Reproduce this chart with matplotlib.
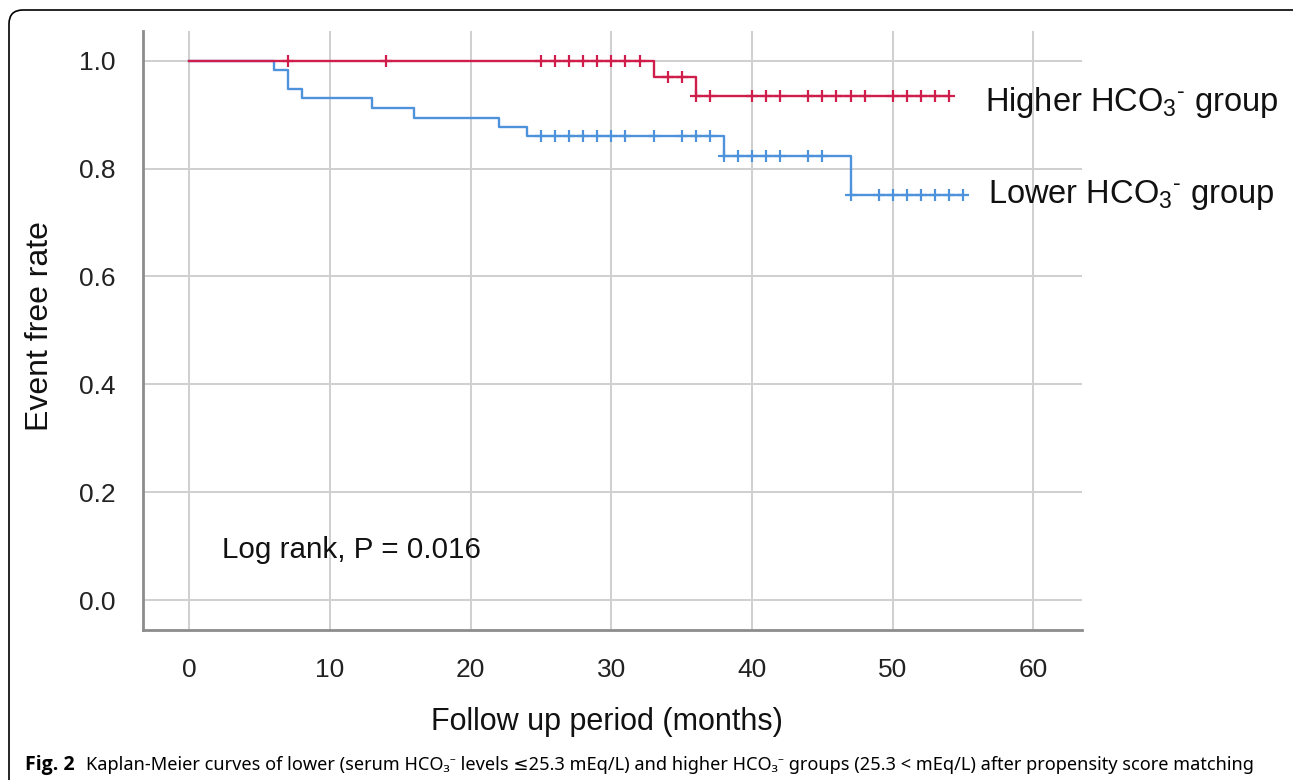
import numpy as np
import matplotlib
matplotlib.use('Agg')
from matplotlib import pyplot as plt
from matplotlib.patches import FancyBboxPatch
from matplotlib.transforms import IdentityTransform

plt.rcParams['font.family'] = ['Liberation Sans', 'DejaVu Sans']
plt.rcParams['mathtext.fontset'] = 'custom'
plt.rcParams['mathtext.rm'] = 'Liberation Sans'
plt.rcParams['mathtext.it'] = 'Liberation Sans:italic'
plt.rcParams['mathtext.bf'] = 'Liberation Sans:bold'

# Kaplan-Meier steps (months, event free rate)
high_times = [0, 33, 36, 54]
high_surv = [1.0, 0.970, 0.935, 0.935]
high_censor = [7, 14, 25, 26, 27, 28, 29, 30, 31, 32, 34, 35, 36, 37,
               40, 41, 42, 44, 45, 46, 47, 48, 50, 51, 52, 53, 54]

low_times = [0, 6, 7, 8, 13, 16, 22, 24, 38, 47, 55]
low_surv = [1.0, 0.983, 0.948, 0.931, 0.913, 0.894, 0.877, 0.860, 0.824, 0.751, 0.751]
low_censor = [25, 26, 27, 28, 29, 30, 31, 33, 35, 36, 37, 38, 39, 40, 41, 42,
              44, 45, 47, 49, 50, 51, 52, 53, 54, 55]

x_ticks = [0, 10, 20, 30, 40, 50, 60]
y_ticks = [0.0, 0.2, 0.4, 0.6, 0.8, 1.0]

red = '#cf1d4c'
blue = '#4f92dc'


def step_value(times, surv, t):
    idx = np.searchsorted(times, t, side='right') - 1
    return np.asarray(surv)[idx]


W, H = 1293, 780
fig = plt.figure(figsize=(W / 100, H / 100), dpi=100)
ax = fig.add_axes([143 / W, 1 - 630 / H, (1082 - 143) / W, (630 - 30.7) / H])

ax.step(low_times, low_surv, where='post', color=blue, lw=1.7, zorder=3)
ax.plot(low_censor, step_value(low_times, low_surv, low_censor), ls='none',
        marker='+', ms=9, mew=1.6, color=blue, zorder=3)
ax.step(high_times, high_surv, where='post', color=red, lw=1.7, zorder=4)
ax.plot(high_censor, step_value(high_times, high_surv, high_censor), ls='none',
        marker='+', ms=9, mew=1.6, color=red, zorder=4)

ax.set_xlim(-3.29, 63.45)
ax.set_ylim(-0.0556, 1.0556)
ax.set_xticks(x_ticks)
ax.set_yticks(y_ticks)
ax.set_yticklabels([f'{v:.1f}' for v in y_ticks])
ax.tick_params(length=0, labelsize=19, labelcolor='#222222')
ax.tick_params(axis='y', pad=20)
ax.tick_params(axis='x', pad=20)
ax.grid(True, color='#cfcfcf', lw=1.4)
ax.set_axisbelow(True)
for s in ['top', 'right']:
    ax.spines[s].set_visible(False)
for s in ['left', 'bottom']:
    ax.spines[s].set_color('#8c8c8c')
    ax.spines[s].set_linewidth(2)

ax.text(2.3, 0.093, 'Log rank, P = 0.016', fontsize=21.3, va='center', color='#111111')
ax.text(56.55, 0.923, r'Higher HCO$_3$$^{\text{-}}$ group', fontsize=23.5,
        va='center', color='#111111', clip_on=False)
ax.text(56.76, 0.751, r'Lower HCO$_3$$^{\text{-}}$ group', fontsize=23.5,
        va='center', color='#111111', clip_on=False)

fig.text(40 / W, 1 - 326 / H, 'Event free rate', rotation=90, fontsize=23,
         ha='center', va='center', color='#111111')
fig.text(607 / W, 1 - 722 / H, 'Follow up period (months)', fontsize=22,
         ha='center', va='center', color='#111111')

# caption
fig.text(25 / W, 1 - 770 / H, 'Fig. 2', fontsize=14, fontweight='bold',
         family=['Open Sans', 'DejaVu Sans'], va='baseline')
fig.text(86 / W, 1 - 770 / H,
         'Kaplan-Meier curves of lower (serum HCO\u2083\u207b levels \u226425.3 mEq/L) and higher '
         'HCO\u2083\u207b groups (25.3 < mEq/L) after propensity score matching',
         fontsize=13.1, family=['Noto Sans', 'DejaVu Sans'], va='baseline')

# rounded frame around the figure
frame = FancyBboxPatch((9, -20), 1300, 780 - 10 + 20, boxstyle='round,pad=0,rounding_size=14',
                       fill=False, ec='black', lw=1.2, transform=IdentityTransform())
fig.add_artist(frame)

fig.savefig('out.png', dpi=100)
